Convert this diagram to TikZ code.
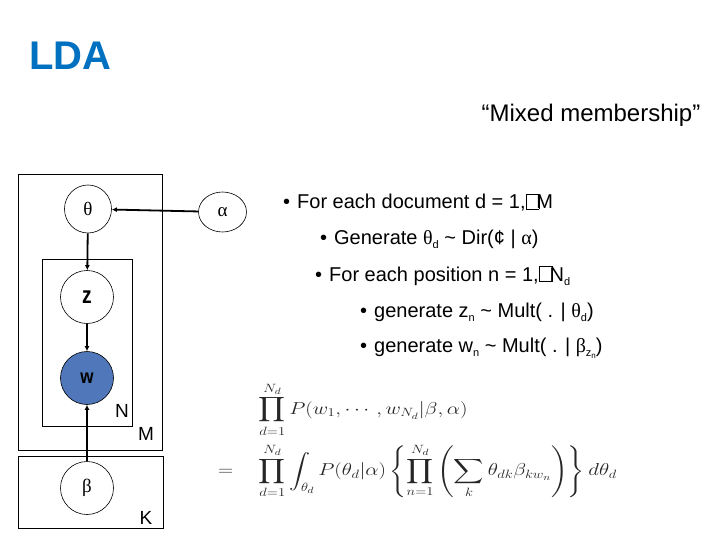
\documentclass[tikz,border=0pt]{standalone}
\usepackage{amsmath}
\usepackage{graphicx}
\usepackage{fontspec}
\setmainfont{Liberation Sans}
\newfontfamily\grk{Liberation Serif}
\usetikzlibrary{arrows.meta,shapes.geometric}
\definecolor{ldablue}{RGB}{0,112,192}
\definecolor{wfill}{RGB}{79,119,186}
\newcommand{\boxglyph}{{\setlength{\fboxsep}{0pt}\setlength{\fboxrule}{0.7pt}\fbox{\rule{0pt}{0.72em}\hspace{0.6em}}}}
\newcommand{\bul}{\makebox[14pt][l]{•}}
\newcommand{\sbs}[1]{\raisebox{-0.22em}{\fontsize{11}{12}\selectfont #1}}
\newcommand{\ssbs}[1]{\raisebox{-0.15em}{\fontsize{8}{9}\selectfont #1}}
\begin{document}
\begin{tikzpicture}[x=1pt,y=-1pt,
  plate/.style={draw=black,line width=0.8pt,inner sep=0pt,rectangle},
  rv/.style={draw=black,line width=0.6pt,ellipse,inner sep=0pt,minimum width=53pt,minimum height=53pt},
  arr/.style={line width=1.8pt,-{Latex[length=5pt,width=5pt]}},
  lbl/.style={font=\fontsize{19}{21}\selectfont,inner sep=0pt},
  bl/.style={anchor=base west,inner sep=0pt,font=\fontsize{20}{24}\selectfont}]
\useasboundingbox (0,0) rectangle (720,540);
% title
\node[anchor=base west,inner sep=0pt,text=ldablue,font=\fontsize{40}{44}\selectfont\bfseries] (title) at (29,70) {LDA};
\node[anchor=base,inner sep=0pt,font=\fontsize{24}{26}\selectfont] (mixed) at (591,122) {“Mixed membership”};
% plates
\node[plate,minimum width=144pt,minimum height=276pt] (M) at (90,312) {};
\node[plate,minimum width=90pt,minimum height=167pt] (N) at (87,342.5) {};
\node[plate,minimum width=145pt,minimum height=72pt] (K) at (90.5,492) {};
\node[lbl] (Nl) at (122,411) {N};
\node[lbl] (Ml) at (146,434) {M};
\node[lbl] (Kl) at (146,518) {K};
% variables
\node[rv,minimum width=47pt,minimum height=48pt,fill=white] (theta) at (88,209) {\grk\fontsize{19}{20}\selectfont θ};
\node[rv,minimum width=48pt,minimum height=40pt,fill=white] (alpha) at (222.5,212) {\grk\fontsize{19}{20}\selectfont α};
\node[rv,fill=white] (z) at (87,297) {\scalebox{0.8}[1]{\fontsize{24}{26}\selectfont\bfseries z}};
\node[rv,fill=wfill] (w) at (87,378) {\scalebox{0.85}[1]{\fontsize{20}{22}\selectfont\bfseries w}};
\node[rv,fill=white] (beta) at (87,488) {\grk\fontsize{19}{20}\selectfont β};
% edges
\draw[arr] (alpha) -- (theta);
\draw[arr] (theta) -- (z);
\draw[arr] (z) -- (w);
\draw[arr] (beta) -- (w);
% bullets
\node[bl] (b1) at (283,209) {\bul For each document d = 1,\kern0.02em\boxglyph\kern-0.15em M};
\node[bl] (b2) at (320,244) {\bul Generate {\grk θ}\sbs{d} \textasciitilde{} Dir(¢ | {\grk α})};
\node[bl] (b3) at (315,281) {\bul For each position n = 1,\kern0.02em\boxglyph\kern-0.15em N\sbs{d}};
\node[bl] (b4) at (360,317) {\bul generate z\sbs{n} \textasciitilde{} Mult( . | {\grk θ}\sbs{d})};
\node[bl] (b5) at (360,352) {\bul generate w\sbs{n} \textasciitilde{} Mult( . | {\grk β}\sbs{z\ssbs{n}})};
% equation
\node[anchor=north west,inner sep=0pt,text=black!85] (eq) at (218,382) {\scalebox{1.22}[1]{\fontsize{18}{22}\selectfont
$\displaystyle\begin{aligned}
&\quad\prod_{d=1}^{N_d} P(w_1,\cdots,w_{N_d}|\beta,\alpha)\\[3pt]
=&\quad\prod_{d=1}^{N_d}\int_{\theta_d} P(\theta_d|\alpha)\left\{\prod_{n=1}^{N_d}\left(\sum_k\theta_{dk}\beta_{kw_n}\right)\right\}d\theta_d
\end{aligned}$}};
\end{tikzpicture}
\end{document}
